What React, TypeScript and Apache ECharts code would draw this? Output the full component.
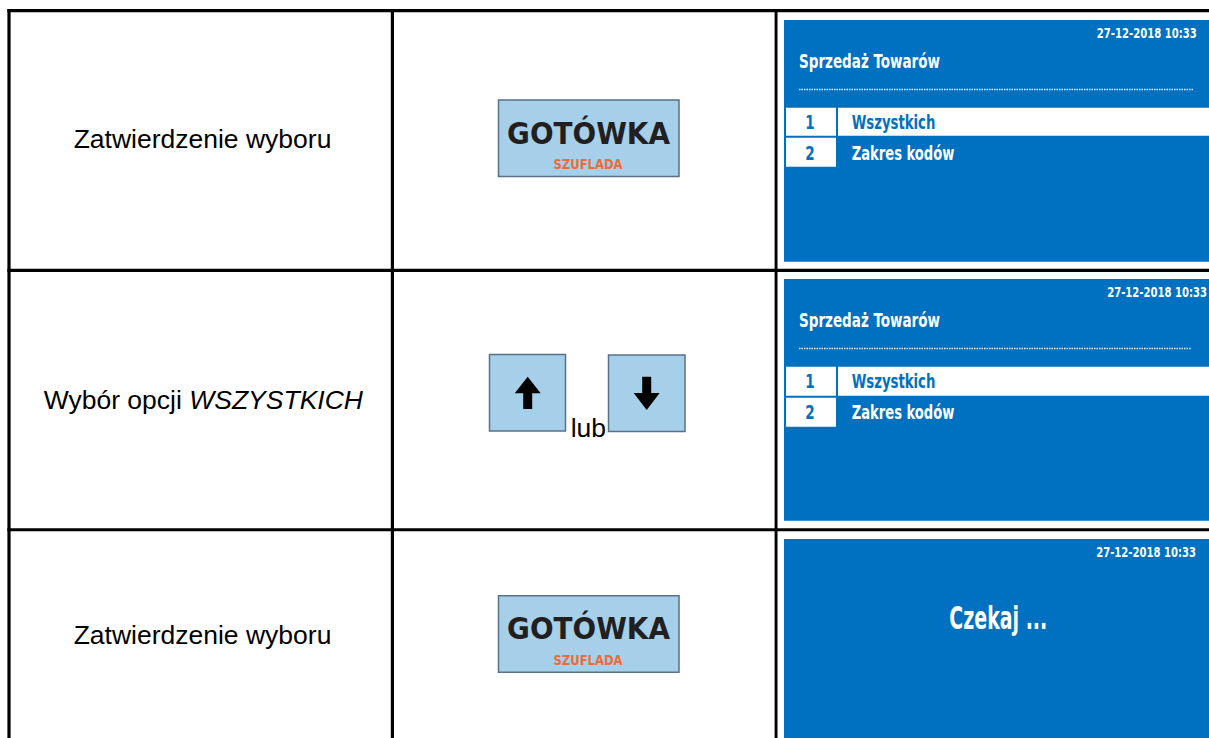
import React, { useEffect, useRef } from "react";
import * as echarts from "echarts";

// ---- content data ----
const stepLabels = ["Zatwierdzenie wyboru", "Wybór opcji ", "Zatwierdzenie wyboru"];
const stepItalic = ["", "WSZYSTKICH", ""];
const keyMainLabel = "GOTÓWKA";
const keySubLabel = "SZUFLADA";
const keyJoinLabel = "lub";
const screenDate = "27-12-2018 10:33";
const screenTitle = "Sprzedaż Towarów";
const menuNumbers = ["1", "2"];
const menuItems = ["Wszystkich", "Zakres kodów"];
const waitText = "Czekaj ...";

const W = 1209;
const H = 738;
const BLUE = "#0070c0";
const KEY_FILL = "#a6d0ea";
const KEY_STROKE = "#5a7089";
const ARIAL = "'Liberation Sans', Arial, sans-serif";
const COND = "'DejaVu Sans Condensed', 'DejaVu Sans', sans-serif";
const K = 0.346; // central-baseline offset (em)

let ctx: CanvasRenderingContext2D | null = null;
function measure(text: string, font: string): number {
  if (!ctx) ctx = document.createElement("canvas").getContext("2d");
  ctx!.font = font;
  return ctx!.measureText(text).width;
}

function txt(
  text: string,
  x: number,
  baseline: number,
  size: number,
  family: string,
  weight: string,
  color: string,
  align: string,
  targetWidth?: number,
  fixedScale?: number,
  fontStyle: string = "normal"
): any {
  const font = `${fontStyle} ${weight} ${size}px ${family}`;
  let sx = 1;
  if (targetWidth) sx = targetWidth / measure(text, font);
  if (fixedScale) sx = fixedScale;
  return {
    type: "text",
    x,
    y: baseline - K * size,
    scaleX: sx,
    style: {
      text,
      fill: color,
      fontSize: size,
      fontFamily: family,
      fontWeight: weight,
      fontStyle,
      align,
      textAlign: align,
      verticalAlign: "middle",
      textVerticalAlign: "middle",
    },
  };
}

function rect(x: number, y: number, w: number, h: number, fill: string, stroke?: string, lw?: number): any {
  return {
    type: "rect",
    shape: { x, y, width: w, height: h },
    style: stroke ? { fill, stroke, lineWidth: lw || 1 } : { fill },
  };
}

function keyButton(dy: number): any[] {
  return [
    rect(498.5, 100 + dy, 180.5, 76.5, KEY_FILL, KEY_STROKE, 1.5),
    txt(keyMainLabel, 588.5, 143.6 + dy, 30, COND, "bold", "#231f20", "center", 163),
    txt(keySubLabel, 588, 169 + dy, 14.5, COND, "bold", "#ef6a3a", "center", 69),
  ];
}

function menuScreen(T: number, dateRight: number, dotEnd: number, row1: [number, number], row2: [number, number]): any[] {
  const titleFont = `normal bold 19.6px ${COND}`;
  const titleScale = 141 / measure(screenTitle, titleFont);
  const els: any[] = [
    rect(784, T, W - 784 + 2, 241.7, BLUE),
    txt(screenDate, dateRight, T + 18.3, 14, COND, "bold", "#ffffff", "right", 100),
    txt(screenTitle, 799, T + 48.3, 19.6, COND, "bold", "#ffffff", "left", 141),
    {
      type: "line",
      shape: { x1: 799, y1: T + 69.5, x2: dotEnd, y2: T + 69.5 },
      style: { stroke: "#e8eef6", lineWidth: 1.6, lineDash: [1.5, 1] },
    },
    // row 1 (highlighted)
    rect(786, T + row1[0], 50, row1[1] - row1[0], "#ffffff"),
    rect(838, T + row1[0], W - 838 + 2, row1[1] - row1[0], "#ffffff"),
    // row 2
    rect(786, T + row2[0], 50, row2[1] - row2[0], "#ffffff"),
    txt(menuNumbers[0], 810, T + 109.3, 19.6, COND, "bold", BLUE, "center", undefined, titleScale),
    txt(menuItems[0], 851.7, T + 109.3, 19.6, COND, "bold", BLUE, "left", 83.6),
    txt(menuNumbers[1], 810, T + 140, 19.6, COND, "bold", BLUE, "center", undefined, titleScale),
    txt(menuItems[1], 851.7, T + 140, 19.6, COND, "bold", "#ffffff", "left", 102.7),
  ];
  return els;
}

function buildElements(): any[] {
  const els: any[] = [];
  els.push(rect(0, 0, W, H, "#ffffff"));

  // --- screens (column 3) ---
  els.push(...menuScreen(20, 1196.7, 1193, [87.7, 115.7], [117.7, 146.7]));
  els.push(...menuScreen(279, 1207, 1191.7, [87.7, 116.7], [118.7, 147.7]));
  els.push(rect(784, 539, W - 784 + 2, H - 539 + 2, BLUE));
  els.push(txt(screenDate, 1196, 557.3, 14, COND, "bold", "#ffffff", "right", 100));
  els.push(txt(waitText, 998.3, 629.3, 32, COND, "bold", "#ffffff", "center", 98));

  // --- keys (column 2) ---
  els.push(...keyButton(0));
  els.push(...keyButton(495.7));

  // arrow keys
  els.push(rect(489.5, 354.5, 76, 76.5, KEY_FILL, KEY_STROKE, 1.5));
  els.push(rect(608.5, 355, 76.5, 76.5, KEY_FILL, KEY_STROKE, 1.5));
  els.push({
    type: "polygon",
    shape: {
      points: [
        [527.7, 376.7],
        [540.7, 393.3],
        [532.2, 393.3],
        [532.2, 409],
        [523.2, 409],
        [523.2, 393.3],
        [514.7, 393.3],
      ],
    },
    style: { fill: "#000000" },
  });
  els.push({
    type: "polygon",
    shape: {
      points: [
        [642.2, 376.7],
        [651.2, 376.7],
        [651.2, 393],
        [659.7, 393],
        [646.7, 410],
        [633.7, 393],
        [642.2, 393],
      ],
    },
    style: { fill: "#000000" },
  });
  els.push(txt(keyJoinLabel, 570.7, 436.7, 26.5, ARIAL, "normal", "#000000", "left"));

  // --- step labels (column 1) ---
  els.push(txt(stepLabels[0], 202.5, 148.3, 26.5, ARIAL, "normal", "#000000", "center"));
  els.push({
    type: "text",
    x: 203.3,
    y: 409.3 - K * 26.5,
    style: {
      text: `${stepLabels[1]}{i|${stepItalic[1]}}`,
      fill: "#000000",
      fontSize: 26.5,
      fontFamily: ARIAL,
      align: "center",
      textAlign: "center",
      verticalAlign: "middle",
      textVerticalAlign: "middle",
      rich: {
        i: { fontSize: 26.5, fontFamily: ARIAL, fontStyle: "italic", fill: "#000000" },
      },
    },
  });
  els.push(txt(stepLabels[2], 202.5, 644, 26.5, ARIAL, "normal", "#000000", "center"));

  // --- table grid lines ---
  els.push(rect(7.4, 9, W - 7.4 + 2, 3.2, "#000000")); // top
  els.push(rect(7.4, 9, 3.2, H - 9 + 2, "#000000")); // left
  els.push(rect(390.8, 9, 3.2, H - 9 + 2, "#000000")); // col 1
  els.push(rect(774.6, 9, 2.9, H - 9 + 2, "#000000")); // col 2
  els.push(rect(7.4, 268.8, W - 7.4 + 2, 3.2, "#000000")); // row 1
  els.push(rect(7.4, 528.3, W - 7.4 + 2, 2.9, "#000000")); // row 2

  return els;
}

export default function App() {
  const ref = useRef<HTMLDivElement>(null);
  useEffect(() => {
    if (!ref.current) return;
    const chart = echarts.init(ref.current, undefined, { renderer: "svg" });
    chart.setOption({
      animation: false,
      graphic: { elements: buildElements() },
    });
    return () => chart.dispose();
  }, []);
  return (
    <div
      ref={ref}
      style={{ position: "fixed", left: 0, top: 0, width: W, height: H, background: "#ffffff" }}
    />
  );
}
